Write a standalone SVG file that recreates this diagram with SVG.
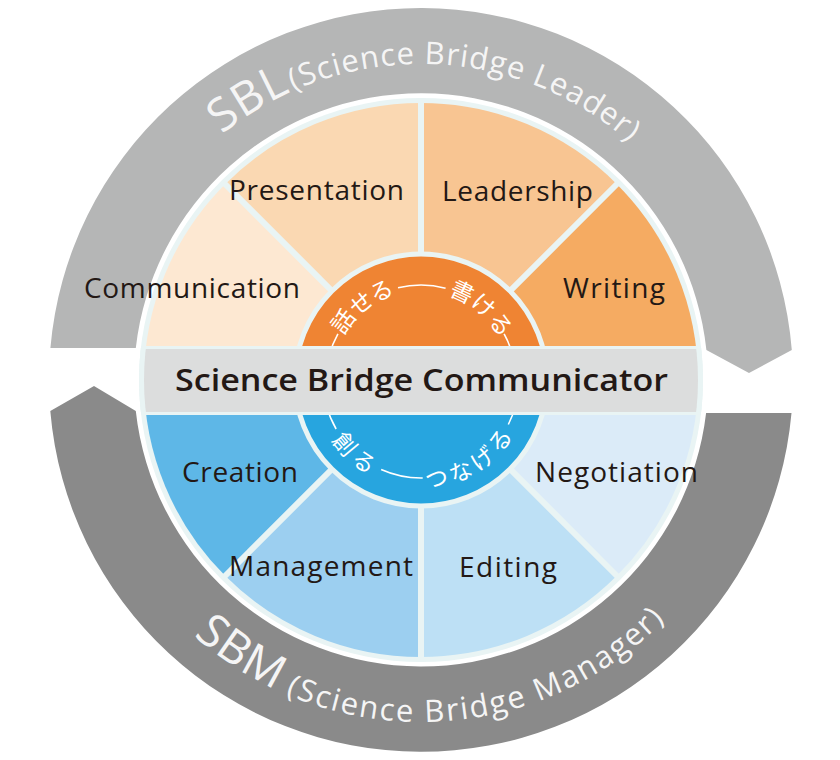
<svg xmlns="http://www.w3.org/2000/svg" width="840" height="760" viewBox="0 0 840 760">
<style>
.lbl{font-family:"Open Sans","Noto Sans",sans-serif;font-size:28px;fill:#231815}
.ttl{font-family:"Open Sans","Noto Sans",sans-serif;font-size:31px;font-weight:600;fill:#231815}
.ring{font-family:"Open Sans","Noto Sans",sans-serif;fill:#f5f5f5}
.jp{font-family:"Noto Sans CJK JP",sans-serif;font-size:23px;fill:#ffffff;text-anchor:middle;dominant-baseline:central}
.jl{fill:none;stroke:#ffffff;stroke-width:1.6}
.div{stroke:#e9f4f4;stroke-width:6}
</style>
<defs>
<path id="arcTop" d="M 105 380 A 316 316 0 0 1 737 380"/>
<path id="arcBot" d="M 79 380 A 342 342 0 0 0 763 380"/>
<clipPath id="disk"><circle cx="421" cy="380" r="277"/></clipPath>
<clipPath id="diskO"><circle cx="421" cy="380" r="282"/></clipPath>
</defs>

<g id="ring-sbl">
<path d="M 50.4 348 A 372 372 0 0 1 791.8 350 L 749 373 L 706.4 350 A 287 287 0 0 0 135.8 348 Z" fill="#b5b6b6"/>
<text class="ring"><textPath href="#arcTop" startOffset="281"><tspan font-size="46" letter-spacing="1">SBL</tspan><tspan font-size="31" letter-spacing="1" dx="2">(Science Bridge Leader)</tspan></textPath></text>
</g>
<g id="ring-sbm">
<path d="M 50.3 411 L 94 386 L 135.8 411 A 287 287 0 0 0 706.1 413 L 791.5 413 A 372 372 0 0 1 50.3 411 Z" fill="#8a8a8a"/>
<text class="ring"><textPath href="#arcBot" startOffset="288"><tspan font-size="46" letter-spacing="1">SBM</tspan><tspan font-size="31" letter-spacing="2" dx="10">(Science Bridge Manager)</tspan></textPath></text>
</g>

<circle cx="421" cy="380" r="282" fill="#e9f4f4"/>

<g id="communication">
<path d="M 421 380 L 144 380 A 277 277 0 0 1 225.13 184.13 Z" fill="#fde8d2"/>
</g>
<g id="presentation">
<path d="M 421 380 L 225.13 184.13 A 277 277 0 0 1 421 103 Z" fill="#fad8b2"/>
</g>
<g id="leadership">
<path d="M 421 380 L 421 103 A 277 277 0 0 1 616.87 184.13 Z" fill="#f8c592"/>
</g>
<g id="writing">
<path d="M 421 380 L 616.87 184.13 A 277 277 0 0 1 698 380 Z" fill="#f5ab62"/>
</g>
<g id="creation">
<path d="M 421 380 L 144 380 A 277 277 0 0 0 225.13 575.87 Z" fill="#5eb7e7"/>
</g>
<g id="management">
<path d="M 421 380 L 225.13 575.87 A 277 277 0 0 0 421 657 Z" fill="#9ccff0"/>
</g>
<g id="editing">
<path d="M 421 380 L 421 657 A 277 277 0 0 0 616.87 575.87 Z" fill="#bde0f5"/>
</g>
<g id="negotiation">
<path d="M 421 380 L 616.87 575.87 A 277 277 0 0 0 698 380 Z" fill="#dbebf8"/>
</g>

<g id="dividers">
<line class="div" x1="421" y1="380" x2="223" y2="182"/>
<line class="div" x1="421" y1="380" x2="421" y2="100"/>
<line class="div" x1="421" y1="380" x2="619" y2="182"/>
<line class="div" x1="421" y1="380" x2="223" y2="578"/>
<line class="div" x1="421" y1="380" x2="421" y2="660"/>
<line class="div" x1="421" y1="380" x2="619" y2="578"/>
</g>

<g id="core-top">
<path d="M 295 380 A 126 126 0 0 1 547 380 Z" fill="#ef8433" stroke="#e9f4f4" stroke-width="5"/>
<path class="jl" d="M 329.24 355.41 A 95 95 0 0 1 337.91 333.94"/>
<path class="jl" d="M 398.02 287.82 A 95 95 0 0 1 445.59 288.24"/>
<path class="jl" d="M 504.09 333.94 A 95 95 0 0 1 512.76 355.41"/>
<text class="jp" transform="translate(341.94 320.42) rotate(-53)">話</text>
<text class="jp" transform="translate(360.05 301.99) rotate(-38)">せ</text>
<text class="jp" transform="translate(380.74 289.56) rotate(-24)">る</text>
<text class="jp" transform="translate(462.84 290.28) rotate(25)">書</text>
<text class="jp" transform="translate(484.63 304.16) rotate(40)">け</text>
<text class="jp" transform="translate(502.10 323.21) rotate(55)">る</text>
</g>
<g id="core-bottom">
<path d="M 295 380 A 126 126 0 0 0 547 380 Z" fill="#27a5df" stroke="#e9f4f4" stroke-width="5"/>
<path class="jl" d="M 326.34 405.36 A 98 98 0 0 0 336.13 429.0"/>
<path class="jl" d="M 381.14 469.53 A 98 98 0 0 0 422.71 477.99"/>
<path class="jl" d="M 508.32 424.49 A 98 98 0 0 0 515.66 405.36"/>
<text class="jp" transform="translate(345.93 443.0) rotate(50)">創</text>
<text class="jp" transform="translate(364.79 460.28) rotate(35)">る</text>
<text class="jp" transform="translate(436.33 476.79) rotate(-9)">つ</text>
<text class="jp" transform="translate(460.07 469.87) rotate(-23.5)">な</text>
<text class="jp" transform="translate(481.34 457.22) rotate(-38)">げ</text>
<text class="jp" transform="translate(498.75 439.66) rotate(-52.5)">る</text>
</g>

<g id="band">
<rect x="130" y="346" width="582" height="69" fill="#e9f4f4" clip-path="url(#diskO)"/>
<rect x="130" y="349" width="582" height="63" fill="#dcdddd" clip-path="url(#disk)"/>
<text class="ttl" x="175" y="391" textLength="493" lengthAdjust="spacingAndGlyphs">Science Bridge Communicator</text>
</g>

<g id="labels">
<text class="lbl" x="229" y="200" textLength="175">Presentation</text>
<text class="lbl" x="84" y="298" textLength="216">Communication</text>
<text class="lbl" x="442" y="201" textLength="151">Leadership</text>
<text class="lbl" x="563" y="298" textLength="102">Writing</text>
<text class="lbl" x="182" y="482" textLength="116">Creation</text>
<text class="lbl" x="229" y="576" textLength="184">Management</text>
<text class="lbl" x="535" y="482" textLength="163">Negotiation</text>
<text class="lbl" x="459" y="577" textLength="98">Editing</text>
</g>
</svg>
